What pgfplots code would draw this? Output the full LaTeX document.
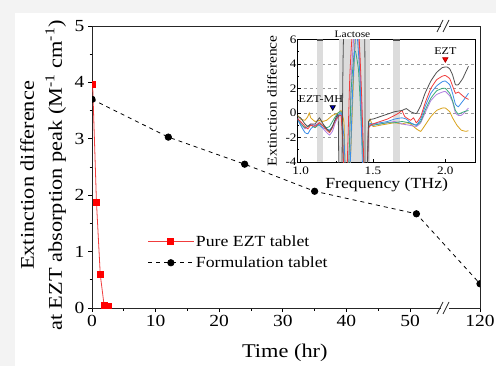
\documentclass[border=0pt]{standalone}
\usepackage{pgfplots}
\pgfplotsset{compat=1.18}
\usepackage{fontspec}
\setmainfont{Liberation Serif}[FakeStretch=1.15]
\definecolor{bggray}{HTML}{F3F3F3}
\definecolor{cgray}{HTML}{505050}
\definecolor{cred}{HTML}{F03C3C}
\definecolor{cblue}{HTML}{3B8DE8}
\definecolor{cgreen}{HTML}{3AAA7A}
\definecolor{cpurple}{HTML}{B07FE0}
\definecolor{corange}{HTML}{D9A21A}
\definecolor{band}{HTML}{DCDCDC}
\begin{document}
\begin{tikzpicture}[x=1bp,y=1bp]
\fill[bggray] (0,0) rectangle (496,366);
\fill[white] (15,0) rectangle (496,353);
\begin{axis}[
  name=main,
  at={(92bp,58bp)}, anchor=south west, scale only axis,
  width=388bp, height=282bp,
  xmin=0, xmax=61, ymin=0, ymax=5,
  xtick={0,10,20,30,40,50,61}, xticklabels={0,10,20,30,40,50,120},
  minor xtick={5,15,25,35,45},
  ytick={0,1,2,3,4,5}, minor ytick={0.5,1.5,2.5,3.5,4.5},
  tick align=outside, xtick pos=left, ytick pos=left,
  major tick length=4bp, minor tick length=2.5bp,
  tick style={black, line width=0.8pt},
  axis line style={black!85, line width=0.9pt},
  ticklabel style={font=\fontsize{17}{20}\selectfont},
  /pgf/number format/assume math mode=true,
  xlabel={Time (hr)},
  ylabel={Extinction difference\\at EZT absorption peak (M\textsuperscript{-1} cm\textsuperscript{-1})},
  label style={font=\fontsize{19.5}{28}\selectfont},
  xlabel style={at={(axis description cs:0.497,0)}, anchor=center, yshift=-45bp},
  ylabel style={at={(axis description cs:-0.126,0.47)}, anchor=center, align=center},
  clip marker paths=true,
  legend cell align=left,
  legend style={draw=none, fill=none, at={(0.144,0.265)}, anchor=north west,
    font=\fontsize{15.5}{18}\selectfont, row sep=5bp, inner sep=0pt},
  legend image code/.code={\draw[mark repeat=2,mark phase=2,#1] plot coordinates {(0cm,0cm) (0.79cm,0cm) (1.59cm,0cm)};},
]
\addplot[cred, line width=0.8pt, mark=square*, mark size=3bp, mark options={solid, fill=red, draw=red}]
  coordinates {(0.1,3.97) (0.7,1.88) (1.3,0.59) (1.9,0.05) (2.5,0.02)};
\addlegendentry{Pure EZT tablet}
\addplot[black, line width=0.8pt, dash pattern=on 4bp off 4bp, mark=*, mark size=3.2bp, mark options={solid, fill=black}]
  coordinates {(0,3.70) (12,3.03) (24,2.55) (35,2.07) (51,1.67) (61,0.43)};
\addlegendentry{Formulation tablet}
\end{axis}
% axis break marks
\foreach \yy in {58,340}{
  \fill[white] (441bp,\yy bp-2bp) rectangle (449bp,\yy bp+2bp);
  \draw[black!85, line width=0.8pt] (437bp,\yy bp-6bp) -- (443bp,\yy bp+6bp);
  \draw[black!85, line width=0.8pt] (443bp,\yy bp-6bp) -- (449bp,\yy bp+6bp);
}
\begin{axis}[
  name=inset,
  at={(297.7bp,204bp)}, anchor=south west, scale only axis,
  width=178bp, height=122.7bp,
  xmin=0.98, xmax=2.21, ymin=-4, ymax=6,
  xtick={1,1.5,2}, minor xtick={1.25,1.75},
  ytick={-4,-2,0,2,4,6}, minor ytick={-3,-1,1,3,5},
  tick align=inside, xtick pos=left, ytick pos=left,
  major tick length=3bp, minor tick length=1.5bp,
  tick style={black, line width=0.6pt},
  ymajorgrids, grid style={dashed, gray!80, line width=0.5pt},
  axis background/.style={fill=white},
  axis line style={black, line width=0.8pt},
  ticklabel style={font=\fontsize{11.5}{13}\selectfont},
  /pgf/number format/assume math mode=true,
  xticklabel style={/pgf/number format/fixed, /pgf/number format/fixed zerofill, /pgf/number format/precision=1, inner ysep=0pt, yshift=-5bp},
  yticklabel style={inner xsep=1bp, inner ysep=0pt},
  label style={font=\fontsize{13.5}{16}\selectfont},
  xlabel={Frequency (THz)}, ylabel={Extinction difference},
  xlabel style={at={(axis description cs:0.5,0)}, anchor=center, yshift=-23bp, font=\fontsize{15.5}{18}\selectfont},
  ylabel style={at={(axis description cs:-0.145,0.5)}, anchor=center},
  every axis plot/.append style={line width=0.8pt, smooth, tension=0.2},
]
\fill[band] (axis cs:1.113,-4) rectangle (axis cs:1.157,6);
\fill[band] (axis cs:1.264,-4) rectangle (axis cs:1.477,6);
\fill[band] (axis cs:1.639,-4) rectangle (axis cs:1.685,6);
\fill[cgray] (axis cs:1.113,5.85) rectangle (axis cs:1.157,6);
\fill[cgray] (axis cs:1.639,5.85) rectangle (axis cs:1.685,6);
% orange
\addplot[corange] coordinates {(0.98,-0.2) (1.00,-0.5) (1.03,-0.6) (1.05,-0.3) (1.06,0.0) (1.07,-0.4) (1.10,-0.7) (1.13,-0.6) (1.15,-0.7) (1.18,-0.6) (1.20,-0.4) (1.22,-0.2) (1.24,-0.1) (1.26,0.0) (1.28,0.2) (1.30,-0.8) (1.31,-5) (1.34,-5) (1.36,1) (1.38,7) (1.40,7) (1.42,0) (1.44,-5) (1.46,-5) (1.47,-0.8) (1.48,-0.5) (1.50,-1.1) (1.55,-1.0) (1.60,-0.9) (1.65,-0.8) (1.70,-0.9) (1.73,-0.8) (1.76,-0.9) (1.80,-1.3) (1.83,-1.5) (1.86,-1.0) (1.90,-0.3) (1.94,0.2) (1.98,0.4) (2.00,0.4) (2.03,0.1) (2.05,-0.4) (2.08,-1.0) (2.11,-1.4) (2.14,-1.5) (2.16,-1.45)};
% purple
\addplot[cpurple] coordinates {(0.98,-0.4) (1.00,-0.8) (1.03,-1.3) (1.05,-1.1) (1.07,-0.9) (1.10,-1.0) (1.13,-0.8) (1.15,-1.2) (1.18,-1.6) (1.20,-1.8) (1.22,-1.5) (1.24,-0.8) (1.26,-0.3) (1.28,-0.1) (1.29,-2) (1.30,-5) (1.33,-5) (1.35,3) (1.37,6.5) (1.40,6.5) (1.42,1) (1.44,-5) (1.46,-5) (1.47,-1.2) (1.50,-1.0) (1.55,-0.9) (1.60,-0.8) (1.65,-0.7) (1.70,-0.9) (1.75,-1.0) (1.80,-1.1) (1.83,-0.8) (1.86,0.0) (1.90,1.0) (1.94,1.5) (1.98,1.7) (2.00,1.75) (2.03,1.4) (2.05,0.9) (2.07,0.0) (2.09,-0.2) (2.11,-0.2) (2.13,0.0) (2.16,0.4)};
% green
\addplot[cgreen] coordinates {(0.98,-0.5) (1.00,-0.9) (1.03,-1.2) (1.05,-1.1) (1.07,-1.0) (1.10,-1.2) (1.13,-0.9) (1.15,-1.0) (1.18,-1.2) (1.20,-1.1) (1.22,-0.7) (1.24,-0.3) (1.26,0.0) (1.28,0.1) (1.29,-1.5) (1.30,-5) (1.33,-5) (1.35,2) (1.37,4.9) (1.38,5.0) (1.40,3.5) (1.42,-1) (1.44,-5) (1.46,-5) (1.47,-1.1) (1.50,-1.0) (1.55,-0.9) (1.60,-0.8) (1.65,-0.8) (1.70,-0.7) (1.75,-0.8) (1.80,-1.0) (1.83,-0.7) (1.86,0.2) (1.90,1.2) (1.94,1.8) (1.98,2.0) (2.00,2.0) (2.03,1.6) (2.05,1.0) (2.07,0.2) (2.09,-0.1) (2.11,0.0) (2.13,0.1) (2.16,0.2)};
% blue
\addplot[cblue] coordinates {(0.98,-0.6) (1.00,-1.0) (1.03,-1.6) (1.05,-1.7) (1.07,-1.3) (1.10,-1.0) (1.13,-1.0) (1.15,-1.2) (1.18,-1.3) (1.20,-1.4) (1.22,-1.1) (1.24,-0.6) (1.26,-0.2) (1.28,0.0) (1.30,-2) (1.31,-5) (1.34,-5) (1.36,2) (1.38,6.3) (1.39,6.5) (1.41,3) (1.43,-5) (1.46,-5) (1.47,-1.0) (1.50,-0.9) (1.55,-0.8) (1.60,-0.7) (1.65,-0.5) (1.70,-0.4) (1.73,-0.5) (1.76,-0.8) (1.80,-1.0) (1.83,-0.5) (1.86,0.5) (1.90,1.6) (1.94,2.2) (1.98,2.55) (2.00,2.6) (2.03,2.3) (2.05,1.6) (2.07,0.7) (2.09,0.5) (2.11,0.8) (2.13,1.1) (2.16,1.6)};
% red
\addplot[cred] coordinates {(0.98,-0.5) (1.00,-0.7) (1.03,-1.1) (1.05,-1.3) (1.07,-1.0) (1.10,-1.1) (1.13,-0.8) (1.15,-1.0) (1.18,-1.4) (1.20,-1.6) (1.22,-1.2) (1.24,-0.6) (1.26,-0.3) (1.28,-0.2) (1.29,-2) (1.30,-5) (1.32,-5) (1.34,3) (1.36,7) (1.40,7) (1.42,2) (1.44,-5) (1.46,-5) (1.47,-1.2) (1.50,-0.9) (1.55,-0.7) (1.60,-0.5) (1.65,-0.2) (1.68,0.0) (1.70,0.2) (1.72,-0.3) (1.76,-0.6) (1.78,-0.4) (1.80,-0.8) (1.83,-0.3) (1.86,0.8) (1.90,2.0) (1.94,2.7) (1.98,3.0) (2.00,3.05) (2.03,2.8) (2.05,2.2) (2.07,1.6) (2.09,1.7) (2.11,1.5) (2.13,1.3) (2.16,1.1)};
% dark gray
\addplot[cgray] coordinates {(0.98,-0.3) (1.00,-0.4) (1.03,-0.9) (1.05,-1.1) (1.07,-0.9) (1.10,-0.9) (1.13,-0.4) (1.15,-0.8) (1.18,-1.3) (1.20,-1.5) (1.22,-1.1) (1.24,-0.5) (1.26,-0.2) (1.265,-5) (1.285,-5) (1.30,7) (1.44,7) (1.445,-5) (1.46,-5) (1.47,-0.7) (1.50,-0.5) (1.55,-0.3) (1.60,-0.1) (1.65,0.1) (1.70,0.2) (1.73,0.35) (1.76,0.1) (1.80,-0.05) (1.83,0.6) (1.86,1.6) (1.90,2.6) (1.94,3.3) (1.98,3.7) (2.01,3.75) (2.03,3.6) (2.05,3.1) (2.07,2.3) (2.09,2.3) (2.12,2.8) (2.14,3.3) (2.16,3.8)};
% markers
\addplot[only marks, mark=triangle*, mark size=3bp, mark options={rotate=180, fill=blue!80!black, draw=black}] coordinates {(1.222,0.47)};
\addplot[only marks, mark=triangle*, mark size=3bp, mark options={rotate=180, fill=red, draw=red!70!black}] coordinates {(2.0,4.38)};
\node[font=\fontsize{10.5}{12}\selectfont] at (axis cs:1.14,1.15) {EZT-MH};
\node[font=\fontsize{10.5}{12}\selectfont] at (axis cs:2.0,5.07) {EZT};
\end{axis}
\node[anchor=south, font=\fontsize{10}{12}\selectfont, inner sep=1bp] at (352.5bp,326.7bp) {Lactose};
\pgfresetboundingbox
\path[use as bounding box] (0,0) rectangle (496,366);
\end{tikzpicture}
\end{document}
